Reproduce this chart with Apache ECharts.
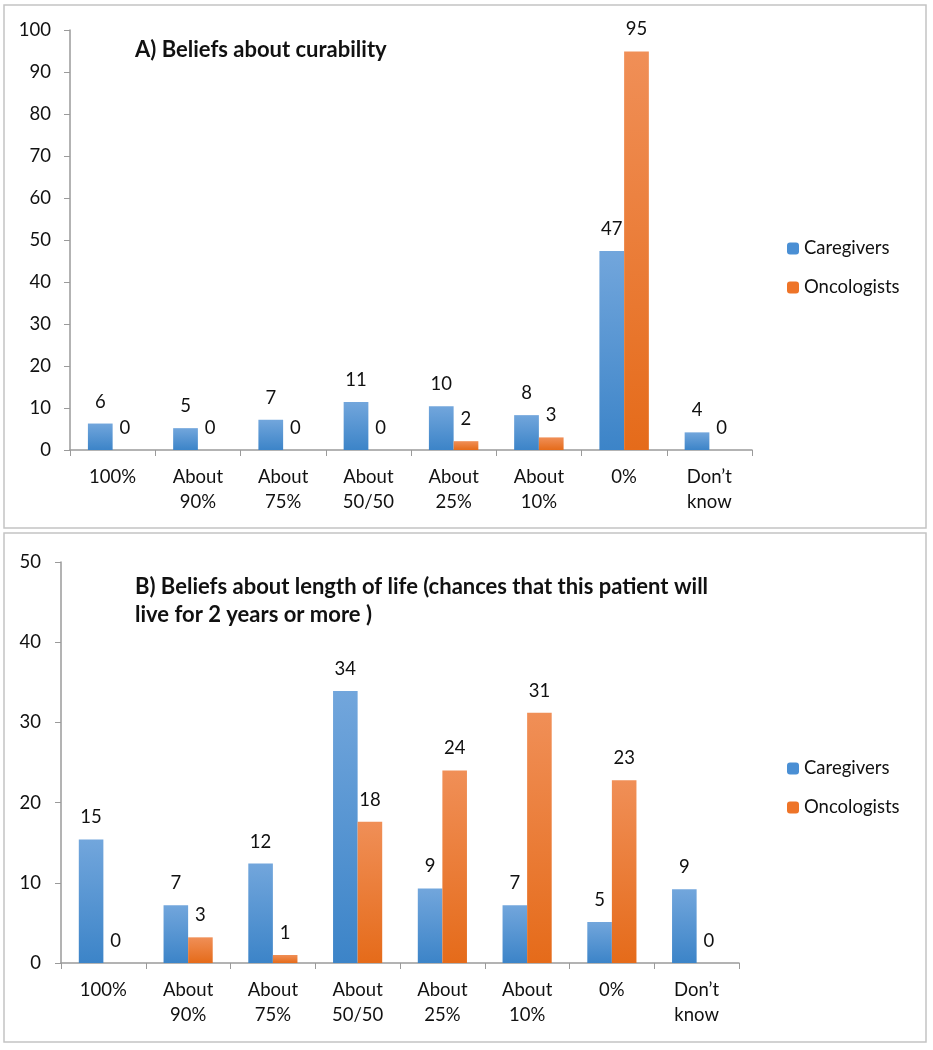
<!DOCTYPE html>
<html>
<head>
<meta charset="utf-8">
<script src="https://cdn.jsdelivr.net/npm/echarts@6/dist/echarts.min.js"></script>
<style>
  html, body { margin: 0; padding: 0; background: #fff; }
  #chart { width: 933px; height: 1050px; }
</style>
</head>
<body>
<div id="chart"></div>
<script>
// categories shared by both panels
const categories = ['100%', 'About\n90%', 'About\n75%', 'About\n50/50', 'About\n25%', 'About\n10%', '0%', 'Don\u2019t\nknow'];

// A) curability - bar heights (labels are rounded)
const caregiversA = [6.3, 5.2, 7.2, 11.4, 10.4, 8.3, 47.4, 4.2];
const oncologistsA = [0, 0, 0, 0, 2.1, 3.0, 94.9, 0];

// B) length of life
const caregiversB = [15.4, 7.2, 12.4, 33.9, 9.3, 7.2, 5.1, 9.2];
const oncologistsB = [0, 3.2, 1.0, 17.6, 24.0, 31.2, 22.8, 0];

const yTicksA = { min: 0, max: 100, interval: 10 };
const yTicksB = { min: 0, max: 50, interval: 10 };

const FONT = 'Lato, "Open Sans", sans-serif';
const AXIS_GRAY = '#9a9a9a';

const blue = new echarts.graphic.LinearGradient(0, 0, 0, 1, [
    { offset: 0, color: '#72a6dc' },
    { offset: 1, color: '#3c84c8' }
]);
const orange = new echarts.graphic.LinearGradient(0, 0, 0, 1, [
    { offset: 0, color: '#f08f57' },
    { offset: 1, color: '#e56b1a' }
]);

function barSeries(name, data, axisIndex, color) {
    return {
        name: name,
        type: 'bar',
        xAxisIndex: axisIndex,
        yAxisIndex: axisIndex,
        data: data,
        barGap: '0%',
        barCategoryGap: '42%',
        itemStyle: { color: color },
        label: {
            show: true,
            position: 'top',
            distance: 12,
            fontFamily: FONT,
            fontSize: 18.5,
            lineHeight: 20,
            color: '#111',
            formatter: p => Math.round(p.value)
        }
    };
}

function catAxis(gridIndex) {
    return {
        type: 'category',
        gridIndex: gridIndex,
        data: categories,
        axisLine: { show: true, lineStyle: { color: AXIS_GRAY, width: 1.5 } },
        axisTick: { show: true, length: 6, lineStyle: { color: AXIS_GRAY } },
        axisLabel: { fontFamily: FONT, fontSize: 18.5, lineHeight: 25, color: '#111', margin: 15, interval: 0 }
    };
}

function valAxis(gridIndex, ticks, margin) {
    return {
        type: 'value',
        gridIndex: gridIndex,
        min: ticks.min,
        max: ticks.max,
        interval: ticks.interval,
        splitLine: { show: false },
        axisLine: { show: true, lineStyle: { color: AXIS_GRAY, width: 1.5 } },
        axisTick: { show: true, length: 6, lineStyle: { color: AXIS_GRAY } },
        axisLabel: { fontFamily: FONT, fontSize: 18.5, color: '#111', margin: margin }
    };
}

function legend(top) {
    return {
        orient: 'vertical',
        left: 787,
        top: top,
        padding: 0,
        itemWidth: 12,
        itemHeight: 12,
        itemGap: 18,
        textStyle: { fontFamily: FONT, fontSize: 18.5, lineHeight: 21, color: '#111' },
        data: [
            { name: 'Caregivers', itemStyle: { color: '#4a8fd4' } },
            { name: 'Oncologists', itemStyle: { color: '#ee7428' } }
        ]
    };
}

const chart = echarts.init(document.getElementById('chart'), null, { renderer: 'canvas' });

chart.setOption({
    animation: false,
    backgroundColor: '#fff',
    graphic: [
        { type: 'rect', shape: { x: 4, y: 5, width: 922, height: 523 }, style: { fill: 'none', stroke: '#c4c4c4', lineWidth: 1.5 }, z: -1 },
        { type: 'rect', shape: { x: 4, y: 533, width: 922, height: 509 }, style: { fill: 'none', stroke: '#c4c4c4', lineWidth: 1.5 }, z: -1 }
    ],
    title: [
        {
            text: 'A) Beliefs about curability',
            left: 135, top: 37, padding: 0,
            textStyle: { fontFamily: FONT, fontSize: 22, fontWeight: 'bold', lineHeight: 26, color: '#111' }
        },
        {
            text: 'B) Beliefs about length of life (chances that this patient will\nlive for 2 years or more )',
            left: 135, top: 573, padding: 0,
            textStyle: { fontFamily: FONT, fontSize: 22, fontWeight: 'bold', lineHeight: 28, color: '#111' }
        }
    ],
    legend: [legend(238), legend(758)],
    grid: [
        { left: 70, top: 30, width: 682, height: 420 },
        { left: 61, top: 562, width: 678, height: 401 }
    ],
    xAxis: [catAxis(0), catAxis(1)],
    yAxis: [valAxis(0, yTicksA, 19), valAxis(1, yTicksB, 20)],
    series: [
        barSeries('Caregivers', caregiversA, 0, blue),
        barSeries('Oncologists', oncologistsA, 0, orange),
        barSeries('Caregivers', caregiversB, 1, blue),
        barSeries('Oncologists', oncologistsB, 1, orange)
    ]
});
</script>
</body>
</html>
